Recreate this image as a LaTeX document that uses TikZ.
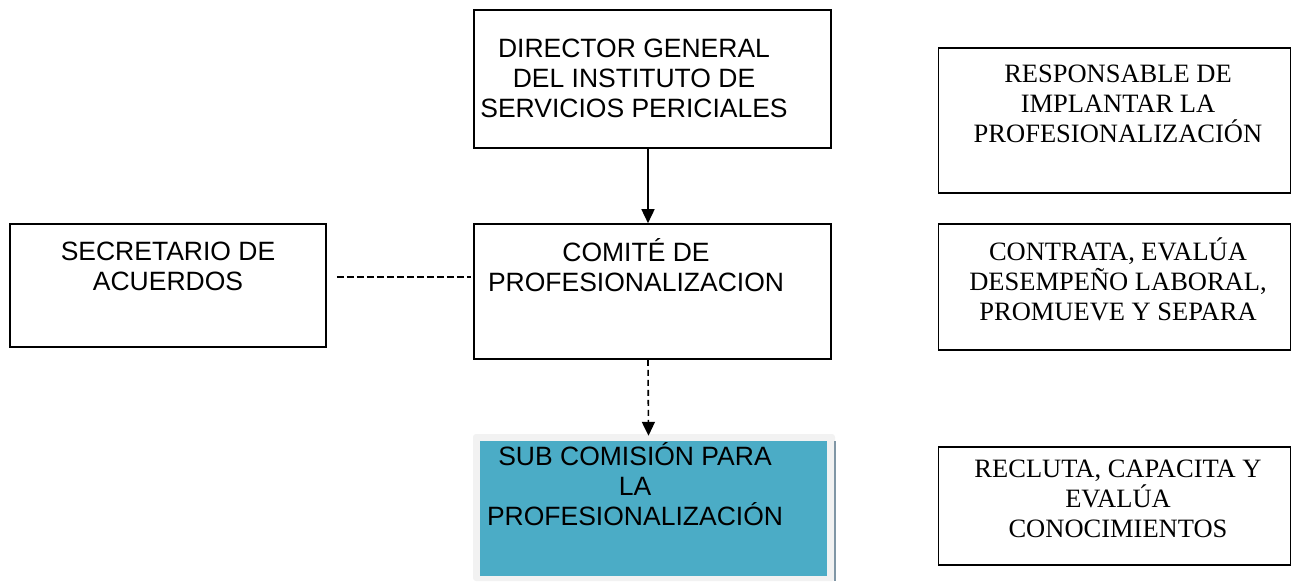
\documentclass[tikz,border=0pt]{standalone}
\usepackage{fontspec}
\setmainfont{Liberation Serif}
\setsansfont{Liberation Sans}
\usetikzlibrary{arrows.meta}
\definecolor{teal1}{RGB}{75,172,198}
\definecolor{frame1}{RGB}{242,242,242}
\definecolor{edge1}{RGB}{128,150,165}
\begin{document}
\begin{tikzpicture}[x=1pt,y=-1pt,
  box/.style={draw=black,line width=1.6pt,rectangle,inner sep=0pt},
  sanstxt/.style={font=\sffamily\fontsize{26.5}{30}\selectfont,align=center,inner sep=0pt},
  seriftxt/.style={font=\rmfamily\fontsize{26.5}{30}\selectfont,align=center,inner sep=0pt},
  arrowtip/.style={-{Triangle[width=13pt,length=14pt]}},
  conn/.style={line width=1.6pt}]
\useasboundingbox (0,0) rectangle (1292,583);
% boxes
\node[box,minimum width=357pt,minimum height=138pt] (dir) at (652.5,79) {};
\node[box,minimum width=357pt,minimum height=135pt] (com) at (652.5,291.5) {};
\node[box,minimum width=316pt,minimum height=123pt] (sec) at (168,285.5) {};
\node[rectangle,fill=frame1,rounded corners=3pt,minimum width=362pt,minimum height=147pt,inner sep=0pt] (sub) at (654,507.5) {};
\node[rectangle,fill=teal1,minimum width=347pt,minimum height=135pt,inner sep=0pt] (subin) at (653.5,508.5) {};
\draw[edge1,line width=2.5pt] (835,441) -- (835,581);
\node[box,minimum width=352pt,minimum height=145pt] (resp) at (1114.5,120.5) {};
\node[box,minimum width=352pt,minimum height=126pt] (cont) at (1114.5,287) {};
\node[box,minimum width=352pt,minimum height=118pt] (recl) at (1114.5,506) {};
% texts
\node[sanstxt] (tdir) at (634,78) {DIRECTOR GENERAL\\DEL INSTITUTO DE\\SERVICIOS PERICIALES};
\node[sanstxt] (tcom) at (636,265) {COMITÉ DE\\PROFESIONALIZACION};
\node[sanstxt] (tsec) at (168,266) {SECRETARIO DE\\ACUERDOS};
\node[sanstxt] (tsub) at (635,484) {SUB COMISIÓN PARA\\LA\\PROFESIONALIZACIÓN};
\node[seriftxt] (tresp) at (1118,104) {RESPONSABLE DE\\IMPLANTAR LA\\PROFESIONALIZACIÓN};
\node[seriftxt] (tcont) at (1118,279) {CONTRATA, EVALÚA\\DESEMPEÑO LABORAL,\\PROMUEVE Y SEPARA};
\node[seriftxt] (trecl) at (1118,499) {RECLUTA, CAPACITA Y\\EVALÚA\\CONOCIMIENTOS};
% connectors
\draw[conn,arrowtip] ([xshift=-4.5pt]dir.south) -- ([xshift=-4.5pt]com.north);
\draw[conn,arrowtip,dash pattern=on 6pt off 4pt] ([xshift=-4.5pt]com.south) -- ([xshift=-5.5pt,yshift=-2pt]sub.north);
\draw[conn,dash pattern=on 7pt off 3pt] ([xshift=10pt,yshift=8.5pt]sec.east) -- ([xshift=-2pt,yshift=14.5pt]com.west);
\end{tikzpicture}
\end{document}
